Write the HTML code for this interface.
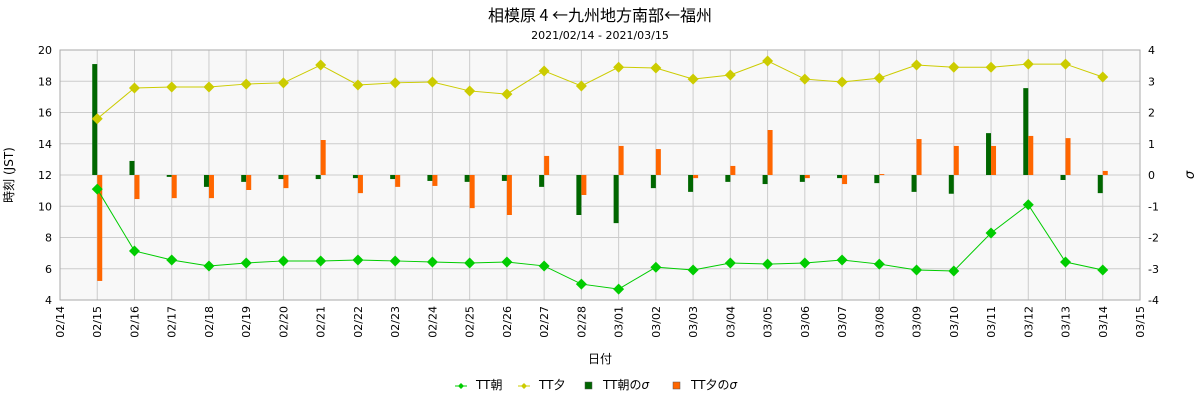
<!DOCTYPE html>
<html><head><meta charset="utf-8"><style>
body{margin:0;background:#fff;}
svg{display:block;font-family:"DejaVu Sans","Liberation Sans","Noto Sans CJK JP",sans-serif;}
</style></head><body>
<svg id="chart" width="1200" height="400" xmlns="http://www.w3.org/2000/svg">
<text x="600" y="21" text-anchor="middle" font-size="16" fill="#000" font-family="'Noto Sans CJK JP',sans-serif">相模原 4 ←九州地方南部←福州</text>
<text x="600" y="39" text-anchor="middle" font-size="11" fill="#000">2021/02/14 - 2021/03/15</text>
<g id="grid"></g>
<g id="bars"></g>
<g id="lines"></g>
<g id="axes"></g>
<text transform="translate(13,175) rotate(-90)" text-anchor="middle" font-size="12">時刻 (JST)</text>
<text transform="translate(1194,175) rotate(-90)" text-anchor="middle" font-size="13" font-style="italic">σ</text>
<text x="600" y="363" text-anchor="middle" font-size="12">日付</text>
<g id="legend" font-size="12">
<g><line x1="455" y1="386" x2="467" y2="386" stroke="#00cc00"/><path d="M461 383 L464 386 L461 389 L458 386Z" fill="#00cc00"/><text x="476" y="389">TT朝</text></g>
<g><line x1="518" y1="386" x2="530" y2="386" stroke="#cccc00"/><path d="M524 383 L527 386 L524 389 L521 386Z" fill="#cccc00"/><text x="539" y="389">TT夕</text></g>
<g><rect x="585" y="382" width="7" height="7" fill="#006600" stroke="#555" stroke-width="0.5"/><text x="603" y="389">TT朝の<tspan font-style="italic">σ</tspan></text></g>
<g><rect x="673" y="382" width="7" height="7" fill="#ff6600" stroke="#555" stroke-width="0.5"/><text x="691" y="389">TT夕の<tspan font-style="italic">σ</tspan></text></g>
</g>
</svg>
<script>
const dates=["02/15","02/16","02/17","02/18","02/19","02/20","02/21","02/22","02/23","02/24","02/25","02/26","02/27","02/28","03/01","03/02","03/03","03/04","03/05","03/06","03/07","03/08","03/09","03/10","03/11","03/12","03/13","03/14"];
const xTickLabels=["02/14","02/15","02/16","02/17","02/18","02/19","02/20","02/21","02/22","02/23","02/24","02/25","02/26","02/27","02/28","03/01","03/02","03/03","03/04","03/05","03/06","03/07","03/08","03/09","03/10","03/11","03/12","03/13","03/14","03/15"];
const ttMorning=[11.1,7.14,6.56,6.18,6.37,6.5,6.5,6.56,6.5,6.43,6.37,6.43,6.18,5.02,4.7,6.1,5.92,6.37,6.3,6.37,6.56,6.3,5.92,5.86,8.29,10.1,6.43,5.92];
const ttEvening=[15.6,17.57,17.63,17.63,17.82,17.9,19.04,17.76,17.9,17.95,17.38,17.18,18.66,17.7,18.9,18.85,18.14,18.4,19.3,18.14,17.95,18.2,19.04,18.9,18.9,19.1,19.1,18.27];
const sigmaMorning=[3.55,0.45,-0.06,-0.38,-0.22,-0.13,-0.13,-0.1,-0.13,-0.19,-0.22,-0.19,-0.38,-1.28,-1.54,-0.42,-0.54,-0.22,-0.29,-0.22,-0.1,-0.26,-0.54,-0.6,1.34,2.78,-0.16,-0.58];
const sigmaEvening=[-3.39,-0.77,-0.74,-0.74,-0.48,-0.42,1.12,-0.58,-0.38,-0.35,-1.06,-1.28,0.61,-0.64,0.93,0.83,-0.1,0.29,1.44,-0.1,-0.29,0.03,1.15,0.93,0.93,1.25,1.18,0.13];
const yTicks=[4,6,8,10,12,14,16,18,20];
const y2Ticks=[-4,-3,-2,-1,0,1,2,3,4];

const L=60,R=1140,T=50,B=300;
const NS="http://www.w3.org/2000/svg";
const xIdx=i=>L+(R-L)*i/(xTickLabels.length-1);
const xDay=i=>xIdx(i+1);
const y1=v=>B-(v-4)/16*(B-T);
const y2=v=>B-(v+4)/8*(B-T);
function mk(tag,attrs,parent){const e=document.createElementNS(NS,tag);for(const k in attrs)e.setAttribute(k,attrs[k]);parent.appendChild(e);return e;}
const grid=document.getElementById('grid'),bars=document.getElementById('bars'),lines=document.getElementById('lines'),axes=document.getElementById('axes');
const bg=mk('rect',{x:L,y:T,width:R-L,height:B-T,fill:'#f8f8f8'},grid);


xTickLabels.forEach((t,i)=>{const x=xIdx(i);
 mk('line',{x1:x,y1:T,x2:x,y2:B,stroke:'#cccccc','stroke-width':1},grid);
 const tx=mk('text',{transform:`translate(${x+4},${B+6}) rotate(-90)`,'text-anchor':'end','font-size':11},axes);
 tx.textContent=t;
 
 
});
yTicks.forEach(v=>{const y=y1(v);
 mk('line',{x1:L,y1:y,x2:R,y2:y,stroke:'#cccccc','stroke-width':1},grid);
 const tx=mk('text',{x:L-8,y:y+4,'text-anchor':'end','font-size':11},axes);
 tx.textContent=v;
 
 
});
y2Ticks.forEach(v=>{const y=y2(v);
 const tx=mk('text',{x:R+8,y:y+4,'text-anchor':'start','font-size':11},axes);
 tx.textContent=v;
 
 
});
const fr=mk('rect',{x:L,y:T,width:R-L,height:B-T,fill:'none',stroke:'#aaaaaa','stroke-width':1},axes);


const z=y2(0);
dates.forEach((d,i)=>{const x=xDay(i);
 let v=sigmaMorning[i];
 const b1=mk('rect',{x:x-5,y:Math.min(y2(v),z),width:5,height:Math.max(Math.abs(y2(v)-z),1),fill:'#006600'},bars);
 
 
 v=sigmaEvening[i];
 const b2=mk('rect',{x:x,y:Math.min(y2(v),z),width:5,height:Math.max(Math.abs(y2(v)-z),1),fill:'#ff6600'},bars);
 
 
});
function series(vals,color,name){
 const pts=vals.map((v,i)=>xDay(i)+','+y1(v)).join(' ');
 const pl=mk('polyline',{points:pts,fill:'none',stroke:color,'stroke-width':1},lines);
 
 
 vals.forEach((v,i)=>{const x=xDay(i),y=y1(v);
  const p=mk('path',{d:`M${x} ${y-5.5}L${x+5.5} ${y}L${x} ${y+5.5}L${x-5.5} ${y}Z`,fill:color},lines);
  
  
 });
}
series(ttEvening,'#cccc00','tt-evening');
series(ttMorning,'#00cc00','tt-morning');
</script>
</body></html>
